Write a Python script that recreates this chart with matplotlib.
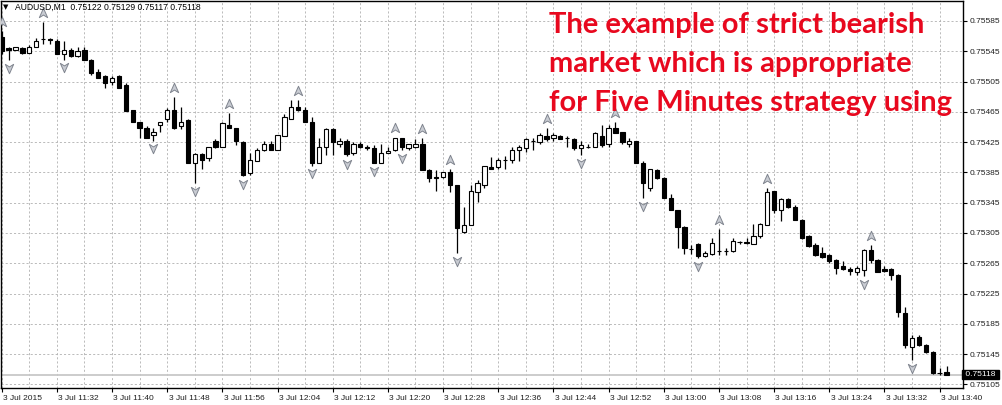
import matplotlib
matplotlib.use("Agg")
import matplotlib.pyplot as plt
import matplotlib.transforms as mtransforms
from matplotlib.path import Path
import numpy as np

# AUDUSD M1, 3 Jul 2015 11:24 .. 13:41 (one bar per minute)
opens = [0.75564, 0.75549, 0.75547, 0.75549, 0.75543, 0.75551, 0.75561, 0.75561, 0.75559, 0.75541,
         0.75547, 0.75539, 0.75547, 0.75534, 0.75517, 0.75512, 0.75504, 0.75512, 0.75500, 0.75467,
         0.75451, 0.75444, 0.75434, 0.75448, 0.75455, 0.75467, 0.75446, 0.75454, 0.75397, 0.75409,
         0.75404, 0.75426, 0.75418, 0.75447, 0.75443, 0.75425, 0.75384, 0.75400, 0.75415, 0.75423,
         0.75414, 0.75433, 0.75456, 0.75471, 0.75468, 0.75451, 0.75398, 0.75418, 0.75442, 0.75423,
         0.75427, 0.75410, 0.75422, 0.75419, 0.75417, 0.75398, 0.75410, 0.75414, 0.75430, 0.75417,
         0.75419, 0.75423, 0.75388, 0.75379, 0.75379, 0.75385, 0.75368, 0.75306, 0.75315, 0.75359,
         0.75368, 0.75392, 0.75392, 0.75401, 0.75401, 0.75414, 0.75417, 0.75427, 0.75425, 0.75433,
         0.75430, 0.75433, 0.75430, 0.75429, 0.75417, 0.75419, 0.75419, 0.75433, 0.75423, 0.75443,
         0.75438, 0.75423, 0.75426, 0.75398, 0.75364, 0.75388, 0.75377, 0.75351, 0.75335, 0.75313,
         0.75284, 0.75290, 0.75274, 0.75277, 0.75281, 0.75281, 0.75281, 0.75293, 0.75293, 0.75290,
         0.75301, 0.75315, 0.75360, 0.75336, 0.75350, 0.75339, 0.75322, 0.75301, 0.75289, 0.75278,
         0.75276, 0.75269, 0.75262, 0.75257, 0.75253, 0.75256, 0.75282, 0.75269, 0.75257, 0.75257,
         0.75249, 0.75199, 0.75154, 0.75168, 0.75157, 0.75148, 0.75120, 0.75122]
highs = [0.75572, 0.75551, 0.75551, 0.75550, 0.75553, 0.75563, 0.75583, 0.75563, 0.75561, 0.75559,
         0.75549, 0.75550, 0.75550, 0.75535, 0.75522, 0.75514, 0.75512, 0.75513, 0.75503, 0.75468,
         0.75452, 0.75446, 0.75443, 0.75452, 0.75470, 0.75484, 0.75471, 0.75455, 0.75410, 0.75410,
         0.75419, 0.75429, 0.75451, 0.75463, 0.75444, 0.75426, 0.75410, 0.75417, 0.75427, 0.75427,
         0.75435, 0.75462, 0.75480, 0.75481, 0.75471, 0.75458, 0.75431, 0.75443, 0.75443, 0.75431,
         0.75429, 0.75425, 0.75425, 0.75421, 0.75421, 0.75422, 0.75418, 0.75431, 0.75431, 0.75423,
         0.75429, 0.75430, 0.75389, 0.75388, 0.75386, 0.75390, 0.75369, 0.75339, 0.75368, 0.75375,
         0.75394, 0.75405, 0.75404, 0.75406, 0.75418, 0.75421, 0.75430, 0.75430, 0.75437, 0.75443,
         0.75437, 0.75434, 0.75433, 0.75430, 0.75426, 0.75423, 0.75439, 0.75447, 0.75447, 0.75452,
         0.75439, 0.75430, 0.75427, 0.75400, 0.75390, 0.75389, 0.75379, 0.75357, 0.75336, 0.75314,
         0.75289, 0.75292, 0.75281, 0.75299, 0.75310, 0.75285, 0.75298, 0.75295, 0.75298, 0.75317,
         0.75318, 0.75364, 0.75361, 0.75351, 0.75351, 0.75342, 0.75323, 0.75302, 0.75292, 0.75286,
         0.75277, 0.75270, 0.75268, 0.75260, 0.75262, 0.75284, 0.75289, 0.75270, 0.75262, 0.75259,
         0.75251, 0.75207, 0.75170, 0.75170, 0.75158, 0.75149, 0.75127, 0.75129]
lows = [0.75542, 0.75533, 0.75546, 0.75542, 0.75543, 0.75550, 0.75554, 0.75555, 0.75542, 0.75534,
        0.75537, 0.75537, 0.75534, 0.75514, 0.75510, 0.75496, 0.75500, 0.75496, 0.75466, 0.75451,
        0.75431, 0.75431, 0.75427, 0.75438, 0.75451, 0.75442, 0.75442, 0.75397, 0.75371, 0.75389,
        0.75400, 0.75417, 0.75418, 0.75443, 0.75421, 0.75380, 0.75381, 0.75400, 0.75413, 0.75414,
        0.75414, 0.75433, 0.75455, 0.75466, 0.75451, 0.75394, 0.75397, 0.75408, 0.75408, 0.75418,
        0.75406, 0.75408, 0.75417, 0.75414, 0.75397, 0.75398, 0.75410, 0.75413, 0.75414, 0.75414,
        0.75417, 0.75388, 0.75372, 0.75360, 0.75377, 0.75359, 0.75278, 0.75305, 0.75315, 0.75346,
        0.75365, 0.75390, 0.75390, 0.75390, 0.75398, 0.75400, 0.75412, 0.75414, 0.75423, 0.75427,
        0.75427, 0.75429, 0.75418, 0.75415, 0.75408, 0.75417, 0.75418, 0.75419, 0.75419, 0.75437,
        0.75423, 0.75418, 0.75398, 0.75351, 0.75361, 0.75376, 0.75351, 0.75335, 0.75285, 0.75277,
        0.75277, 0.75272, 0.75273, 0.75276, 0.75276, 0.75276, 0.75280, 0.75290, 0.75290, 0.75290,
        0.75299, 0.75315, 0.75331, 0.75321, 0.75338, 0.75322, 0.75297, 0.75286, 0.75274, 0.75272,
        0.75266, 0.75251, 0.75256, 0.75249, 0.75249, 0.75248, 0.75266, 0.75253, 0.75253, 0.75243,
        0.75194, 0.75153, 0.75137, 0.75156, 0.75146, 0.75119, 0.75117, 0.75117]
closes = [0.75545, 0.75547, 0.75550, 0.75543, 0.75551, 0.75559, 0.75561, 0.75560, 0.75542, 0.75547,
          0.75539, 0.75545, 0.75534, 0.75516, 0.75510, 0.75503, 0.75510, 0.75497, 0.75466, 0.75451,
          0.75443, 0.75431, 0.75439, 0.75451, 0.75467, 0.75443, 0.75451, 0.75397, 0.75409, 0.75401,
          0.75418, 0.75418, 0.75450, 0.75443, 0.75426, 0.75381, 0.75401, 0.75414, 0.75423, 0.75414,
          0.75434, 0.75458, 0.75471, 0.75468, 0.75451, 0.75397, 0.75418, 0.75442, 0.75425, 0.75426,
          0.75409, 0.75422, 0.75418, 0.75417, 0.75398, 0.75410, 0.75413, 0.75430, 0.75418, 0.75422,
          0.75423, 0.75388, 0.75377, 0.75377, 0.75385, 0.75368, 0.75311, 0.75315, 0.75361, 0.75371,
          0.75393, 0.75390, 0.75401, 0.75401, 0.75414, 0.75418, 0.75429, 0.75427, 0.75434, 0.75429,
          0.75434, 0.75429, 0.75430, 0.75417, 0.75421, 0.75419, 0.75437, 0.75421, 0.75444, 0.75437,
          0.75425, 0.75427, 0.75398, 0.75371, 0.75389, 0.75377, 0.75351, 0.75335, 0.75313, 0.75285,
          0.75284, 0.75274, 0.75278, 0.75292, 0.75281, 0.75281, 0.75295, 0.75293, 0.75292, 0.75301,
          0.75317, 0.75359, 0.75336, 0.75350, 0.75339, 0.75322, 0.75298, 0.75288, 0.75276, 0.75273,
          0.75268, 0.75259, 0.75257, 0.75255, 0.75259, 0.75282, 0.75269, 0.75253, 0.75255, 0.75249,
          0.75201, 0.75157, 0.75166, 0.75157, 0.75148, 0.75120, 0.75120, 0.75118]

# bar indices carrying Bill Williams fractal arrows
fractal_up = [0, 6, 25, 33, 43, 57, 61, 65, 79, 89, 104, 111, 126]
fractal_down = [1, 9, 22, 28, 35, 45, 50, 54, 58, 66, 84, 93, 101, 125, 132]

time_labels = ['3 Jul 2015', '3 Jul 11:32', '3 Jul 11:40', '3 Jul 11:48', '3 Jul 11:56',
               '3 Jul 12:04', '3 Jul 12:12', '3 Jul 12:20', '3 Jul 12:28', '3 Jul 12:36',
               '3 Jul 12:44', '3 Jul 12:52', '3 Jul 13:00', '3 Jul 13:08', '3 Jul 13:16',
               '3 Jul 13:24', '3 Jul 13:32', '3 Jul 13:40']
price_ticks = [0.75105, 0.75145, 0.75185, 0.75225, 0.75265, 0.75305, 0.75345,
               0.75385, 0.75425, 0.75465, 0.75505, 0.75545, 0.75585]
last_price = 0.75118

header = 'AUDUSD,M1  0.75122 0.75129 0.75117 0.75118'
note_lines = ['The example of strict bearish',
              'market which is appropriate',
              'for Five Minutes strategy using']

small_font = ['Liberation Sans', 'DejaVu Sans']

o = np.array(opens)
h = np.array(highs)
l = np.array(lows)
c = np.array(closes)
idx = np.arange(len(o))

fig = plt.figure(figsize=(10.02, 4.05), dpi=100)
ax = fig.add_axes([0.5 / 1002, 17 / 405, 962.5 / 1002, 387.5 / 405])

# wicks and bodies
ax.vlines(idx, l, h, color='black', linewidth=0.9, zorder=2)
bull = c >= o
body_bottom = np.minimum(o, c)
body_height = np.abs(c - o)
ax.bar(idx, body_height, bottom=body_bottom, width=0.62,
       color=np.where(bull, 'white', 'black'), edgecolor='black',
       linewidth=0.8, zorder=3)

# fractal arrows
up_arrow = Path([(0, 1), (0.8, -0.8), (0, -0.3), (-0.8, -0.8), (0, 1)],
                [Path.MOVETO, Path.LINETO, Path.LINETO, Path.LINETO, Path.CLOSEPOLY])
down_arrow = Path([(0, -1), (0.8, 0.8), (0, 0.3), (-0.8, 0.8), (0, -1)],
                  [Path.MOVETO, Path.LINETO, Path.LINETO, Path.LINETO, Path.CLOSEPOLY])
arrow_style = dict(linestyle='none', markersize=7.5, markerfacecolor='#c9ccd3',
                   markeredgecolor='#80858f', markeredgewidth=0.7, zorder=4)
ax.plot(fractal_up, h[fractal_up] + 0.00012, marker=up_arrow, **arrow_style)
ax.plot(fractal_down, l[fractal_down] - 0.00010, marker=down_arrow, **arrow_style)

# current price line
ax.axhline(last_price, color='#c8c8c8', linewidth=1.3, zorder=1)

ax.set_xlim(-0.17, 139.39)
ax.set_ylim(0.751003, 0.75612)

ax.set_xticks(np.arange(0, len(time_labels) * 8, 8))
ax.set_xticklabels(time_labels)
ax.set_xticks(np.arange(0, 140, 4), minor=True)
ax.set_yticks(price_ticks)
ax.set_yticklabels(['%.5f' % p for p in price_ticks])
ax.yaxis.tick_right()
ax.tick_params(axis='both', which='major', length=3, width=0.8, color='black',
               labelsize=6, pad=2, labelcolor='#202020')
ax.tick_params(axis='x', which='minor', length=0)
for lab in ax.get_xticklabels() + ax.get_yticklabels():
    lab.set_family(small_font)
shift = mtransforms.ScaledTranslation(1 / 72, 0, fig.dpi_scale_trans)
for lab in ax.get_xticklabels():
    lab.set_horizontalalignment('left')
    lab.set_transform(lab.get_transform() + shift)

ax.grid(True, which='both', color='#b0b0b0', linestyle=(0, (2.5, 2.5)), linewidth=0.6)
ax.set_axisbelow(True)
for s in ax.spines.values():
    s.set_color('black')
    s.set_linewidth(1.0)

# last price box on the price scale
ax.text(1.0, last_price, ' 0.75118 ', transform=ax.get_yaxis_transform(),
        ha='left', va='center', fontsize=6, color='white', family=small_font,
        bbox=dict(boxstyle='square,pad=0.15', facecolor='black', edgecolor='black'),
        clip_on=False, zorder=5)

# header
fig.text(3 / 1002, 1 - 7 / 405, '\u25bc', fontsize=5, color='black', va='center')
fig.text(15 / 1002, 1 - 7 / 405, header, fontsize=6.2, color='black', va='center',
         family=small_font)

# red note
for i, line in enumerate(note_lines):
    fig.text(549 / 1002, 1 - (33 + 39 * i) / 405, line, fontsize=21, color='#e8081e',
             fontweight='bold', family=['Lato', 'DejaVu Sans'], va='baseline')

fig.savefig('out.png', dpi=100)
